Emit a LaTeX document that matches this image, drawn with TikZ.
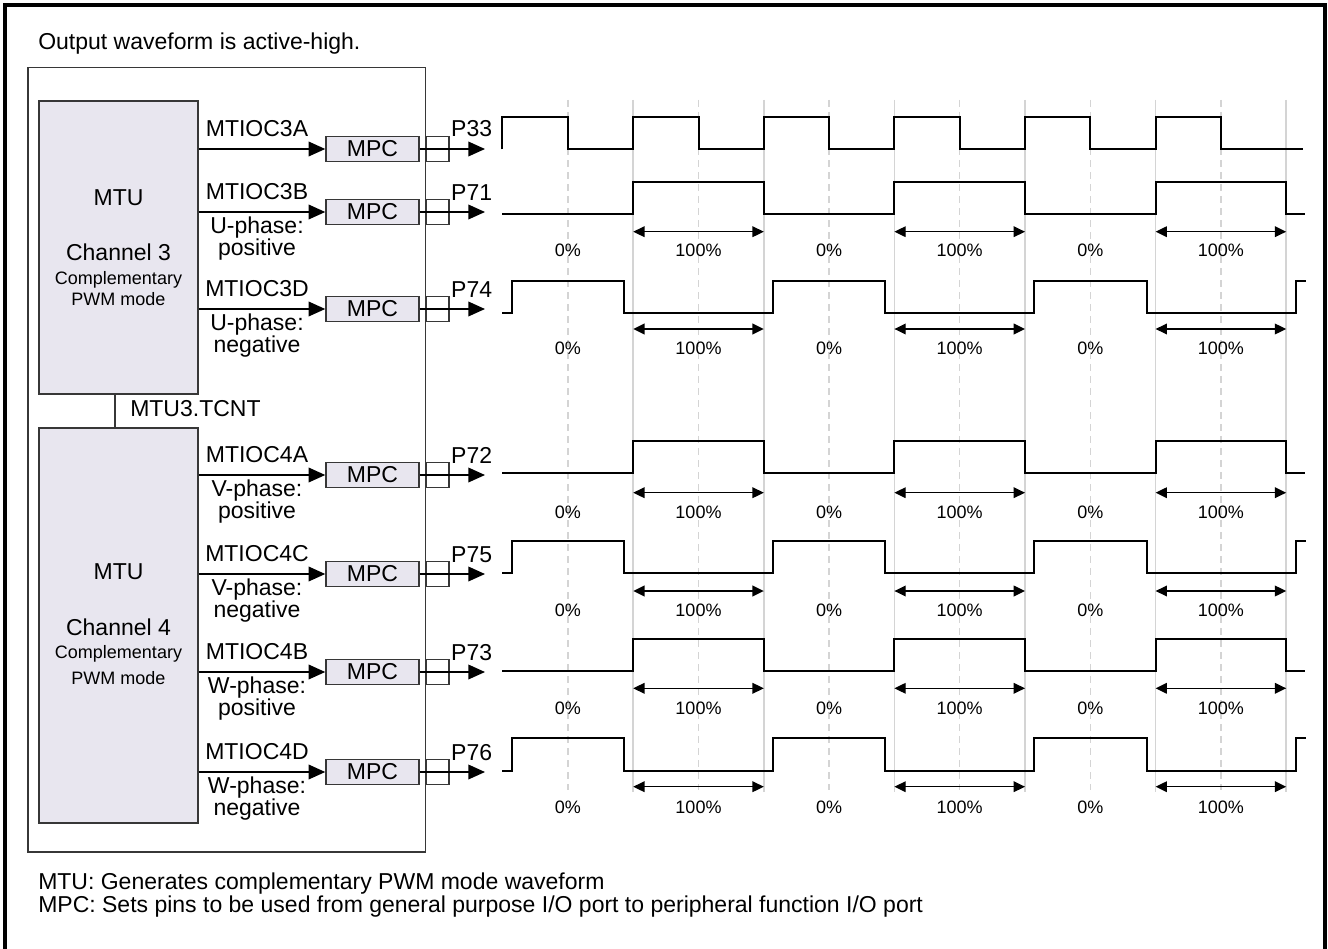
\documentclass[tikz,border=0pt]{standalone}
\usepackage{fontspec}
\setmainfont{Liberation Sans}
\usetikzlibrary{arrows.meta}
\definecolor{boxfill}{RGB}{232,230,239}
\definecolor{boxline}{RGB}{55,55,55}
\definecolor{gridc}{RGB}{212,212,212}
\newcommand\mypos[2]{\draw[wave] (502,#1) -- (633.2,#1) -- (633.2,#2) -- (763.8,#2) -- (763.8,#1) -- (894.4,#1) -- (894.4,#2) -- (1025,#2) -- (1025,#1) -- (1155.6,#1) -- (1155.6,#2) -- (1286.2,#2) -- (1286.2,#1) -- (1305,#1);}
\newcommand\myneg[2]{\draw[wave] (502,#1) -- (511.6,#1) -- (511.6,#2) -- (624.2,#2) -- (624.2,#1) -- (772.8,#1) -- (772.8,#2) -- (885.4,#2) -- (885.4,#1) -- (1034,#1) -- (1034,#2) -- (1146.6,#2) -- (1146.6,#1) -- (1296,#1) -- (1296,#2) -- (1306,#2);}
\begin{document}
\begin{tikzpicture}[x=0.75pt,y=-0.75pt,
  lbl/.style={font=\fontsize{17.25}{20}\selectfont, inner sep=0pt, anchor=base},
  small/.style={font=\fontsize{13.5}{16}\selectfont, inner sep=0pt, anchor=base},
  mtubox/.style={draw=boxline, fill=boxfill, line width=1.1pt, minimum width=119.25pt, inner sep=0pt},
  mpcbox/.style={draw=boxline, fill=boxfill, line width=1.1pt, minimum width=69.75pt, minimum height=18.75pt, inner sep=0pt, font=\fontsize{17.25}{20}\selectfont},
  pinbox/.style={draw=boxline, line width=1.1pt, minimum width=17.25pt, minimum height=18.75pt, inner sep=0pt},
  sig/.style={line width=1.1pt, -{Triangle[length=12.5pt,width=11pt]}},
  dur/.style={line width=1.1pt, {Triangle[length=8.5pt,width=8pt]}-{Triangle[length=8.5pt,width=8pt]}},
  wave/.style={line width=1.5pt, line join=miter},
  gridsolid/.style={draw=gridc, line width=1.1pt},
  griddash/.style={draw=gridc, line width=1.1pt, dash pattern=on 5.25pt off 3.75pt},
]
\useasboundingbox (0,0) rectangle (1328,949);
% outer frame (open at the bottom)
\draw[line width=2.5pt] (5,949) -- (5,5) -- (1325,5) -- (1325,949);
\node[lbl, anchor=base west] (title) at (38,49.3) {Output waveform is active-high.};
% inner box
\draw[draw=boxline, line width=1.1pt] (28,67.5) rectangle (425.5,852);
% MTU boxes
\node[mtubox, minimum height=219.75pt] (ch3) at (118.5,247.5) {};
\node[mtubox, minimum height=296.25pt] (ch4) at (118.5,625.5) {};
\node[lbl] (t3a) at (118.5,205) {MTU};
\node[lbl] (t3b) at (118.5,260) {Channel 3};
\node[small] (t3c) at (118.5,284) {Complementary};
\node[small] (t3d) at (118.5,305.7) {PWM mode};
\node[lbl] (t4a) at (118.5,579.3) {MTU};
\node[lbl] (t4b) at (118.5,635) {Channel 4};
\node[small] (t4c) at (118.5,658.7) {Complementary};
\node[small] (t4d) at (118.5,684.3) {PWM mode};
\coordinate (tc) at (115,410);
\draw[draw=boxline, line width=1.1pt] (ch3.south -| tc) -- (ch4.north -| tc);
\node[lbl, anchor=base west] (tcnt) at (130,416.7) {MTU3.TCNT};
% grid
\foreach \gx in {633.2,763.8,894.4,1025,1155.6,1286.2} \draw[gridsolid] (\gx,100) -- (\gx,792);
\foreach \gx in {567.9,698.5,829.1,959.7,1090.3,1220.9} \draw[griddash] (\gx,100) -- (\gx,790);
% signal rows
\foreach \nm/\r/\sg/\pin/\bx in {3a/149/MTIOC3A/P33/ch3, 3b/212/MTIOC3B/P71/ch3, 3d/309/MTIOC3D/P74/ch3, 4a/475/MTIOC4A/P72/ch4, 4c/574/MTIOC4C/P75/ch4, 4b/672/MTIOC4B/P73/ch4, 4d/772/MTIOC4D/P76/ch4}{
  \node[pinbox] (pb\nm) at (437.5,\r) {};
  \node[mpcbox] (mpc\nm) at (372.5,\r) {MPC};
  \coordinate (end\nm) at (485,\r);
  \draw[sig] (mpc\nm.west -| \bx.east) -- (mpc\nm.west);
  \draw[sig] (mpc\nm.east) -- (end\nm);
  \node[lbl] (sl\nm) at (257,\r-12.5) {\sg};
  \node[lbl] (pl\nm) at (471.7,\r-12) {\pin};
}
\foreach \nm/\r/\ph/\pol in {3b/212/U/positive, 3d/309/U/negative, 4a/475/V/positive, 4c/574/V/negative, 4b/672/W/positive, 4d/772/W/negative}{
  \node[lbl] (ph\nm) at (257,\r+21) {\ph-phase:};
  \node[lbl] (po\nm) at (257,\r+43) {\pol};
}
% waveforms
\draw[wave] (502,149.3) -- (502,116.8) -- (567.9,116.8) -- (567.9,149.3) -- (633.2,149.3) -- (633.2,116.8) -- (698.5,116.8) -- (698.5,149.3) -- (763.8,149.3) -- (763.8,116.8) -- (829.1,116.8) -- (829.1,149.3) -- (894.4,149.3) -- (894.4,116.8) -- (959.7,116.8) -- (959.7,149.3) -- (1025,149.3) -- (1025,116.8) -- (1090.3,116.8) -- (1090.3,149.3) -- (1155.6,149.3) -- (1155.6,116.8) -- (1220.9,116.8) -- (1220.9,149.3) -- (1303,149.3);
\mypos{214}{181.5}
\myneg{313}{280.7}
\mypos{473.3}{441.3}
\myneg{573.3}{540.7}
\mypos{671}{639}
\myneg{770.7}{738}
% duty arrows and labels
\foreach \ay/\ly in {231.7/256.7, 329/354, 492.7/518, 591/616, 688.3/714.3, 786.7/813.3}{
  \draw[dur] (633.2,\ay) -- (763.8,\ay);
  \draw[dur] (894.4,\ay) -- (1025,\ay);
  \draw[dur] (1155.6,\ay) -- (1286.2,\ay);
  \foreach \zx in {567.9,829.1,1090.3} \node[small] at (\zx,\ly) {0\%};
  \foreach \hx in {698.5,959.7,1220.9} \node[small] at (\hx,\ly) {100\%};
}
% notes
\node[lbl, anchor=base west] (note1) at (38,889) {MTU: Generates complementary PWM mode waveform};
\node[lbl, anchor=base west] (note2) at (38,912) {MPC: Sets pins to be used from general purpose I/O port to peripheral function I/O port};
\end{tikzpicture}
\end{document}
